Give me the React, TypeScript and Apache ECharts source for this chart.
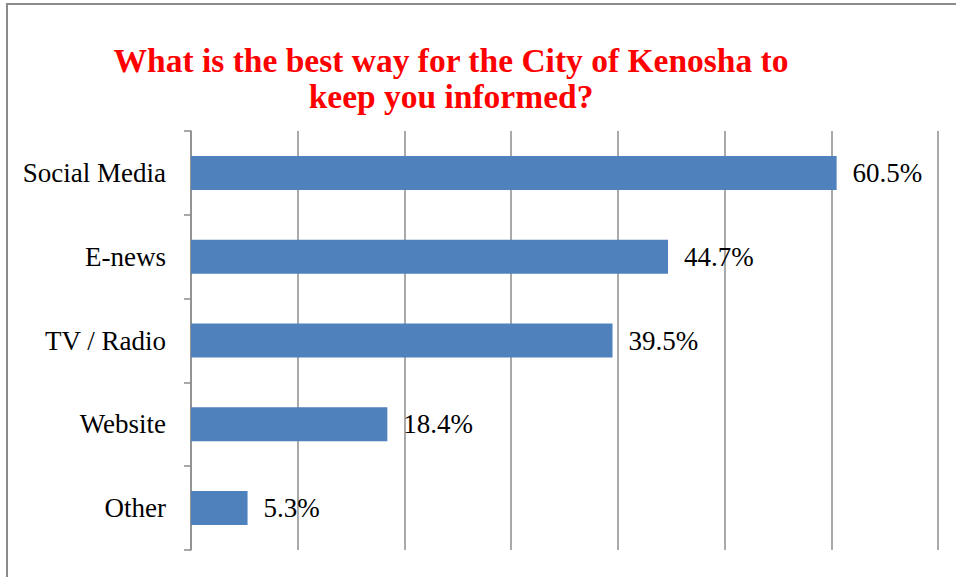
import React, { useEffect, useRef } from "react";
import * as echarts from "echarts";

const categories = ["Social Media", "E-news", "TV / Radio", "Website", "Other"];
const values = [60.5, 44.7, 39.5, 18.4, 5.3];
const titleText = "What is the best way for the City of Kenosha to\nkeep you informed?";

export default function App() {
  const ref = useRef<HTMLDivElement>(null);
  useEffect(() => {
    if (!ref.current) return;
    const chart = echarts.init(ref.current, null, { renderer: "svg" });
    chart.setOption({
      animation: false,
      backgroundColor: "#ffffff",
      title: {
        text: titleText,
        left: 446,
        top: 37,
        textAlign: "center",
        textStyle: {
          fontFamily: "Liberation Serif",
          fontWeight: "bold",
          fontSize: 33.5,
          color: "#ff0000",
          lineHeight: 36,
        },
      },
      graphic: [
        {
          type: "rect",
          shape: { x: 7, y: 4, width: 1200, height: 1200 },
          style: { fill: "none", stroke: "#8c8c8c", lineWidth: 2 },
          silent: true,
        },
      ],
      grid: { left: 191, right: 18, top: 131, bottom: 27, containLabel: false },
      xAxis: {
        type: "value",
        min: 0,
        max: 70,
        interval: 10,
        axisLine: { show: false },
        axisTick: { show: false },
        axisLabel: { show: false },
        splitLine: { show: true, lineStyle: { color: "#8c8c8c", width: 1.5 } },
      },
      yAxis: {
        type: "category",
        inverse: true,
        data: categories,
        axisLine: { show: true, lineStyle: { color: "#8c8c8c", width: 1.5 } },
        axisTick: { show: true, length: 7, lineStyle: { color: "#8c8c8c", width: 1.5 } },
        axisLabel: {
          margin: 25,
          fontFamily: "Liberation Serif",
          fontSize: 27,
          color: "#000000",
        },
      },
      series: [
        {
          type: "bar",
          data: values,
          barWidth: 34,
          itemStyle: { color: "#4f81bd" },
          label: {
            show: true,
            position: "right",
            distance: 16,
            formatter: (p: any) => p.value.toFixed(1) + "%",
            fontFamily: "Liberation Serif",
            fontSize: 27,
            color: "#000000",
          },
        },
      ],
    });
    return () => chart.dispose();
  }, []);
  return (
    <div
      ref={ref}
      style={{ position: "absolute", left: 0, top: 0, width: 956, height: 577 }}
    />
  );
}
